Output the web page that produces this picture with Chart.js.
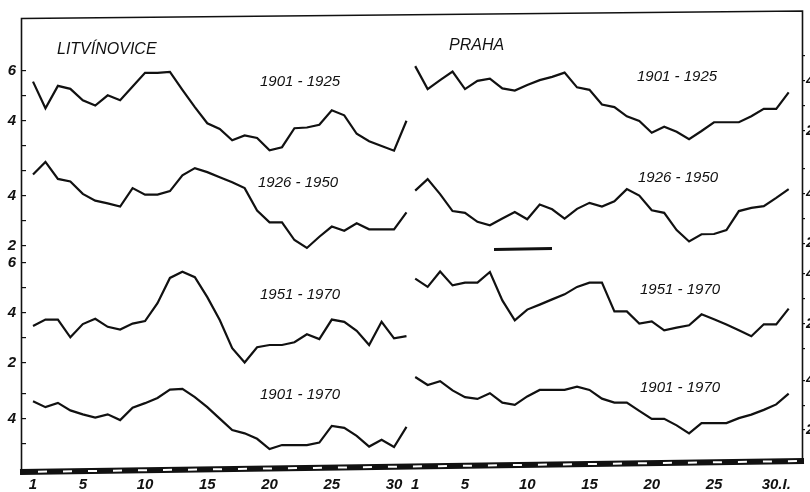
<!DOCTYPE html>
<html>
<head>
<meta charset="utf-8">
<script src="https://cdn.jsdelivr.net/npm/chart.js@4.4.1/dist/chart.umd.min.js"></script>
<style>
  html, body { margin: 0; background: #fff; }
</style>
</head>
<body>
<canvas id="chart" width="810" height="492"></canvas>
<script>
// January days
const days = [1,2,3,4,5,6,7,8,9,10,11,12,13,14,15,16,17,18,19,20,21,22,23,24,25,26,27,28,29,30,31];

// Litvínovice
const litv_1901_1925 = [5.57,4.50,5.40,5.28,4.82,4.61,5.02,4.82,5.37,5.92,5.92,5.96,5.24,4.55,3.90,3.67,3.22,3.41,3.31,2.82,2.94,3.70,3.73,3.84,4.42,4.22,3.48,3.18,2.99,2.80,4.00];
const litv_1926_1950 = [4.86,5.36,4.68,4.58,4.08,3.81,3.70,3.57,4.31,4.05,4.05,4.19,4.82,5.11,4.95,4.75,4.55,4.31,3.41,2.94,2.94,2.23,1.91,2.36,2.77,2.60,2.90,2.66,2.66,2.66,3.34];
const litv_1951_1970 = [3.46,3.72,3.72,3.01,3.54,3.75,3.43,3.32,3.56,3.66,4.38,5.39,5.64,5.42,4.62,3.70,2.57,2.00,2.61,2.70,2.70,2.81,3.13,2.94,3.72,3.63,3.27,2.70,3.63,2.97,3.06];
const litv_1901_1970 = [4.71,4.47,4.64,4.34,4.18,4.05,4.18,3.95,4.45,4.63,4.84,5.17,5.20,4.87,4.47,4.01,3.55,3.42,3.20,2.79,2.95,2.95,2.95,3.05,3.72,3.64,3.32,2.89,3.16,2.87,3.68];

// Praha
const praha_1901_1925 = [4.59,3.67,4.03,4.37,3.67,4.00,4.09,3.70,3.61,3.83,4.03,4.16,4.33,3.74,3.64,3.05,2.95,2.58,2.39,1.92,2.16,1.96,1.66,1.99,2.34,2.34,2.34,2.58,2.88,2.88,3.54];
const praha_1926_1950 = [4.11,4.57,3.97,3.29,3.22,2.86,2.72,2.99,3.25,2.96,3.55,3.36,2.99,3.38,3.62,3.47,3.68,4.17,3.91,3.32,3.22,2.53,2.07,2.36,2.37,2.53,3.29,3.42,3.49,3.82,4.17];
const praha_1951_1970 = [3.80,3.47,4.09,3.53,3.64,3.64,4.07,2.93,2.13,2.56,2.76,2.97,3.17,3.47,3.64,3.64,2.49,2.49,2.00,2.09,1.73,1.84,1.93,2.37,2.17,1.96,1.73,1.49,1.97,1.97,2.60];
const praha_1901_1970 = [4.13,3.81,3.96,3.59,3.32,3.25,3.48,3.10,3.01,3.35,3.61,3.61,3.61,3.74,3.61,3.26,3.10,3.10,2.77,2.45,2.45,2.19,1.87,2.28,2.28,2.28,2.48,2.62,2.81,3.03,3.46];

const periodLabels = ['1901 - 1925', '1926 - 1950', '1951 - 1970', '1901 - 1970'];
const stationLabels = ['LITVÍNOVICE', 'PRAHA'];

// axis ticks of each strip (value scale), even ones get a label
const leftStripTicks  = [[3,4,5,6], [2,3,4,5], [2,3,4,5,6], [3,4,5]];
const rightStripTicks = [[2,3,4,5], [2,3,4,5], [1,2,3,4], [2,3,4]];
const xTickDays = [1,5,10,15,20,25,30];

// layout: vertical shift of each strip, horizontal shift of the Praha panel
const leftShift  = [9.92, 6.91, 2.23, -2.03];
const rightShift = [11.52, 7.01, 3.79, -0.48];
const prahaDayShift = 30.7;

const FONT = '"Liberation Sans", Arial, sans-serif';
const INK = '#111';

const leftSeries  = [litv_1901_1925, litv_1926_1950, litv_1951_1970, litv_1901_1970];
const rightSeries = [praha_1901_1925, praha_1926_1950, praha_1951_1970, praha_1901_1970];

function strip(values, shift, dayShift) {
  return {
    data: values.map((v, i) => ({ x: days[i] + dayShift, y: v + shift })),
    borderColor: INK, borderWidth: 2.2, pointRadius: 0, tension: 0, fill: false,
    borderJoinStyle: 'miter',
  };
}

const datasets = [
  ...leftSeries.map((s, i) => strip(s, leftShift[i], 0)),
  ...rightSeries.map((s, i) => strip(s, rightShift[i], prahaDayShift)),
];

function stripTickList(ticks, shifts) {
  const out = [];
  ticks.forEach((list, i) => list.forEach(v => out.push({ pos: v + shifts[i], label: v % 2 === 0 ? String(v) : '' })));
  return out;
}
const leftTicks  = stripTickList(leftStripTicks, leftShift);
const rightTicks = stripTickList(rightStripTicks, rightShift);
const xTicks = [
  ...xTickDays.map(d => ({ pos: d, label: String(d) })),
  ...xTickDays.map(d => ({ pos: d + prahaDayShift, label: d === 30 ? '30.I.' : String(d) })),
];

function labelFor(list, value) {
  const t = list.find(t => Math.abs(t.pos - value) < 1e-6);
  return t ? t.label : '';
}

const decor = {
  id: 'decor',
  afterDraw(chart) {
    const ctx = chart.ctx;
    ctx.save();
    // frame (the scan is slightly rotated)
    ctx.strokeStyle = INK;
    ctx.lineWidth = 1.6;
    ctx.beginPath();
    ctx.moveTo(21.5, 472);
    ctx.lineTo(21.5, 18.5);
    ctx.lineTo(802.5, 11);
    ctx.lineTo(802.5, 461);
    ctx.stroke();

    // bottom dashed bar
    const x0 = 20, y0 = 472, x1 = 804, y1 = 461;
    const ang = Math.atan2(y1 - y0, x1 - x0);
    const len = Math.hypot(x1 - x0, y1 - y0);
    ctx.translate(x0, y0);
    ctx.rotate(ang);
    ctx.fillStyle = INK;
    ctx.fillRect(0, -3, len, 6);
    ctx.fillStyle = '#fff';
    for (let p = 18; p < len - 8; p += 25) ctx.fillRect(p, -1, 9, 2);
    ctx.setTransform(1, 0, 0, 1, 0, 0);

    // scan artefact stroke
    ctx.strokeStyle = INK;
    ctx.lineWidth = 3;
    ctx.beginPath();
    ctx.moveTo(494, 249.5);
    ctx.lineTo(552, 248.5);
    ctx.stroke();

    // texts
    ctx.fillStyle = INK;
    ctx.textBaseline = 'middle';
    ctx.textAlign = 'left';
    ctx.font = 'italic 16px ' + FONT;
    ctx.fillText(stationLabels[0], 57, 50);
    ctx.fillText(stationLabels[1], 449, 46);
    ctx.font = 'italic 15px ' + FONT;
    const lp = [[260, 82], [258, 183], [260, 295], [260, 395]];
    const rp = [[637, 77], [638, 178], [640, 290], [640, 388]];
    periodLabels.forEach((t, i) => {
      ctx.fillText(t, lp[i][0], lp[i][1]);
      ctx.fillText(t, rp[i][0], rp[i][1]);
    });
    ctx.restore();
  }
};

const tickFont = { family: FONT, size: 15, style: 'italic', weight: 'bold' };

new Chart(document.getElementById('chart'), {
  type: 'line',
  data: { datasets },
  options: {
    responsive: false,
    animation: false,
    layout: { padding: { top: 18, left: 0, right: 0, bottom: 0 } },
    plugins: { legend: { display: false }, tooltip: { enabled: false } },
    scales: {
      x: {
        type: 'linear', min: 0.116, max: 62.77,
        afterBuildTicks: s => { s.ticks = xTicks.map(t => ({ value: t.pos })); },
        afterFit: s => { s.height = 24; },
        grid: { display: false, drawTicks: false },
        border: { display: false },
        ticks: { autoSkip: false, maxRotation: 0, padding: 8, color: INK, font: tickFont,
                 callback: v => labelFor(xTicks, v) },
      },
      y: {
        type: 'linear', position: 'left', min: 0, max: 18,
        afterBuildTicks: s => { s.ticks = leftTicks.map(t => ({ value: t.pos })); },
        afterFit: s => { s.width = 22; },
        grid: { drawOnChartArea: false, drawTicks: true, tickLength: -4, color: INK, lineWidth: 1.2 },
        border: { display: false },
        ticks: { autoSkip: false, padding: 10, color: INK, font: tickFont,
                 callback: v => labelFor(leftTicks, v) },
      },
      y2: {
        type: 'linear', position: 'right', min: 0, max: 18,
        afterBuildTicks: s => { s.ticks = rightTicks.map(t => ({ value: t.pos })); },
        afterFit: s => { s.width = 8; },
        grid: { drawOnChartArea: false, drawTicks: true, tickLength: 3, color: INK, lineWidth: 1.2 },
        border: { display: false },
        ticks: { autoSkip: false, padding: 1, color: INK, font: tickFont,
                 callback: v => labelFor(rightTicks, v) },
      },
    },
  },
  plugins: [decor],
});
</script>
</body>
</html>
